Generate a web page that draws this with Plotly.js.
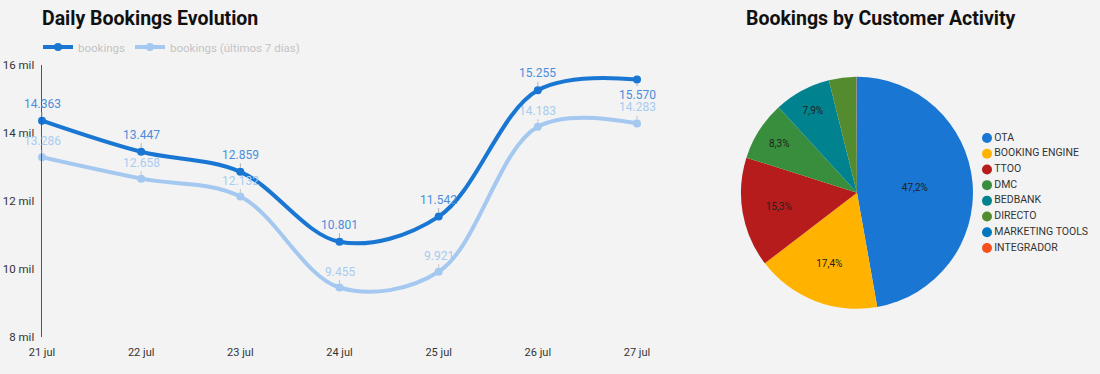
<!DOCTYPE html>
<html><head><meta charset="utf-8">
<script src="https://cdn.plot.ly/plotly-3.0.1.min.js"></script>
<style>html,body{margin:0;padding:0;background:#f3f3f3;overflow:hidden;width:1100px;height:374px}#chart{width:1100px;height:374px}</style>
</head><body><div id="chart"></div>
<script>
const days = ['21 jul','22 jul','23 jul','24 jul','25 jul','26 jul','27 jul'];
const bookings = [14363, 13447, 12859, 10801, 11542, 15255, 15570];
const bookings7 = [13286, 12658, 12132, 9455, 9921, 14183, 14283];
const yTickVals = [8000, 10000, 12000, 14000, 16000];
const yTickText = ['8 mil', '10 mil', '12 mil', '14 mil', '16 mil'];
const activities = ['OTA','BOOKING ENGINE','TTOO','DMC','BEDBANK','DIRECTO','MARKETING TOOLS','INTEGRADOR'];
const shares = [47.2, 17.4, 15.3, 8.3, 7.9, 3.8, 0.06, 0.04];
const pieColors = ['#1976d2','#ffb300','#b71c1c','#388e3c','#00838f','#558b2f','#0277bd','#f4511e'];

const dark = '#1976d2', light = '#a4c8f0';
const fmt = v => Math.floor(v/1000) + '.' + String(v % 1000).padStart(3, '0');

const traces = [
  {x: days, y: bookings, name: 'bookings', type: 'scatter', mode: 'lines+markers',
   line: {color: dark, width: 4, shape: 'spline', smoothing: 1}, marker: {color: dark, size: 8},
   cliponaxis: false},
  {x: days, y: bookings7, name: 'bookings (últimos 7 días)', type: 'scatter', mode: 'lines+markers',
   line: {color: light, width: 4, shape: 'spline', smoothing: 1}, marker: {color: light, size: 8},
   cliponaxis: false},
  {type: 'pie', labels: activities, values: shares, sort: false, direction: 'clockwise', rotation: 0,
   marker: {colors: pieColors, line: {width: 0}},
   texttemplate: shares.map(v => v > 5 ? '%{percent:.1%}' : ''),
   textposition: 'inside', insidetextorientation: 'horizontal',
   textfont: {family: 'Roboto', size: 10, color: '#222'},
   hoverinfo: 'label+percent', showlegend: false,
   domain: {x: [0.6736, 0.8845], y: [0.174, 0.795]}},
  // legend of the pie, drawn as a key on its own hidden axes
  {type: 'scatter', mode: 'markers+text', xaxis: 'x2', yaxis: 'y2',
   x: activities.map(() => 0), y: activities.map((a, i) => i), text: activities,
   textposition: 'middle right', textfont: {family: 'Roboto', size: 10.5, color: '#333'},
   marker: {color: pieColors, size: 10, symbol: 'circle'}, cliponaxis: false, showlegend: false,
   hoverinfo: 'skip'}
];

const annotations = [
  {text: '<b>Daily Bookings Evolution</b>', xref: 'paper', yref: 'paper', x: 40/1100, y: 1 - 19/374,
   xanchor: 'left', yanchor: 'middle', showarrow: false, font: {family: 'Roboto', size: 19.5, color: '#111'}},
  {text: '<b>Bookings by Customer Activity</b>', xref: 'paper', yref: 'paper', x: 881/1100, y: 1 - 19/374,
   xanchor: 'center', yanchor: 'middle', showarrow: false, font: {family: 'Roboto', size: 19.5, color: '#111'}}
];
bookings.forEach((v, i) => {
  const below = i === bookings.length - 1;
  annotations.push({x: days[i], y: v, xref: 'x', yref: 'y', text: fmt(v), showarrow: true,
    arrowhead: 0, arrowwidth: 1, arrowcolor: '#b0b0b0', ax: 0, ay: below ? 15 : -17, standoff: 4,
    font: {family: 'Roboto', size: 12, color: '#4a8edb'}});
});
bookings7.forEach((v, i) => {
  annotations.push({x: days[i], y: v, xref: 'x', yref: 'y', text: fmt(v), showarrow: true,
    arrowhead: 0, arrowwidth: 1, arrowcolor: '#c4c4c4', ax: 0, ay: -16, standoff: 4,
    font: {family: 'Roboto', size: 12, color: '#a9cbef'}});
});

const layout = {
  width: 1100, height: 374, margin: {l: 0, r: 0, t: 0, b: 0, autoexpand: false},
  paper_bgcolor: '#f3f3f3', plot_bgcolor: 'rgba(0,0,0,0)',
  separators: ',.',
  font: {family: 'Roboto', color: '#333'},
  xaxis: {type: 'category', domain: [42/1100, 637/1100], range: [0, 6], showline: false, showgrid: false,
    zeroline: false, ticks: '', tickfont: {size: 11, color: '#333'}, ticklabelstandoff: 7, automargin: false},
  yaxis: {domain: [1 - 337/374, 1 - 65/374], range: [8000, 16000], tickvals: yTickVals, ticktext: yTickText,
    showgrid: false, zeroline: false, showline: true, linecolor: '#555', linewidth: 1.5, ticks: '',
    tickfont: {size: 11.5, color: '#333'}, ticklabelstandoff: 4, automargin: false},
  xaxis2: {domain: [987/1100, 1], range: [0, 10], visible: false, anchor: 'y2', automargin: false},
  yaxis2: {domain: [1 - 248/374, 1 - 138/374], range: [7, 0], visible: false, anchor: 'x2', automargin: false},
  legend: {orientation: 'h', x: 38/1100, xanchor: 'left', y: 1 - 47/374, yanchor: 'middle',
    font: {size: 11.5, color: '#c4c4c4'}, bgcolor: 'rgba(0,0,0,0)', itemwidth: 30},
  annotations: annotations,
  showlegend: true
};
Plotly.newPlot('chart', traces, layout, {displayModeBar: false, staticPlot: true});
</script></body></html>
